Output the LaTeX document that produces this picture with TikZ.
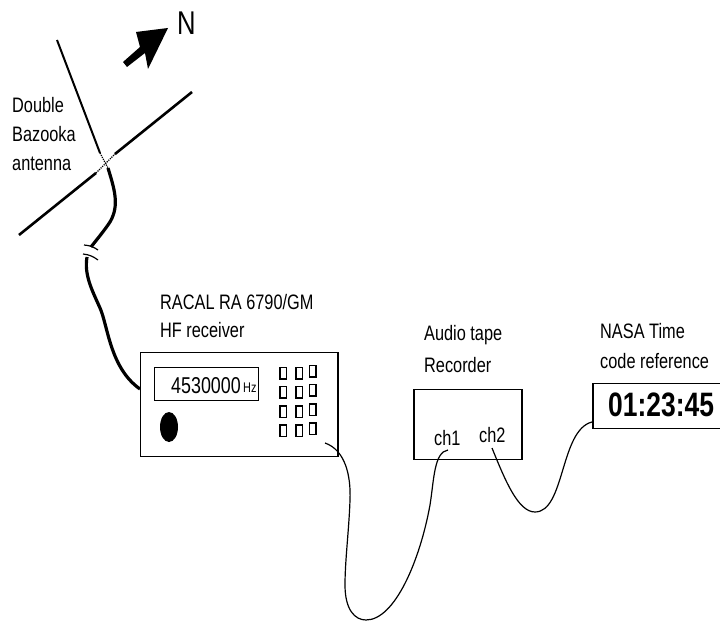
\documentclass[tikz,border=0pt]{standalone}
\usepackage{fontspec}
\setmainfont[FakeStretch=0.78]{Liberation Sans}
\begin{document}
\begin{tikzpicture}[x=1bp, y=-1bp, line join=miter,
    every node/.style={inner sep=0pt},
    lbl/.style={anchor=west, font=\fontsize{21}{21}\selectfont},
    unit/.style={draw, anchor=north west, line width=1.5pt},
    btn/.style={draw, line width=1.5pt, minimum width=6.5bp, minimum height=11.5bp},
    wire/.style={line width=1.2pt},
    feed/.style={line width=3.2pt}]
    \useasboundingbox (0, 0) rectangle (720, 622);
    % antenna
    \coordinate (A1) at (57, 40);
    \coordinate (A2) at (100, 153);
    \coordinate (A3) at (108, 168);
    \coordinate (B1) at (19, 235);
    \coordinate (B2) at (96, 173);
    \coordinate (B3) at (115, 154);
    \coordinate (B4) at (192, 92);
    \draw[line width=2pt] (A1) -- (A2);
    \draw[line width=2.6pt] (B1) -- (B2);
    \draw[line width=2.6pt] (B3) -- (B4);
    \draw[line width=1.2pt, densely dotted] (A2) -- (A3);
    \draw[line width=1.2pt, densely dotted] (B2) -- (B3);
    % north arrow
    \fill (123, 62) -- (140, 47) -- (136, 32) -- (168, 28) -- (148, 69) -- (145, 53) -- (127, 67) -- cycle;
    \node[lbl, font=\fontsize{33}{33}\selectfont] (north) at (177, 23) {N};
    % labels
    \node[lbl] (dbl1) at (12, 105) {Double};
    \node[lbl] (dbl2) at (12, 134) {Bazooka};
    \node[lbl] (dbl3) at (12, 164) {antenna};
    \node[lbl] (rx1) at (160, 302) {RACAL RA 6790/GM};
    \node[lbl] (rx2) at (160, 330) {HF receiver};
    \node[lbl] (tape1) at (424, 335) {Audio tape};
    \node[lbl] (tape2) at (424, 365) {Recorder};
    \node[lbl] (nasa1) at (600, 331) {NASA Time};
    \node[lbl] (nasa2) at (600, 361) {code reference};
    % receiver
    \node[unit, minimum width=197bp, minimum height=104bp] (rx) at (140, 352) {};
    \node[unit, minimum width=104bp, minimum height=33bp] (disp) at (154, 367) {};
    \node[lbl, font=\fontsize{23}{23}\selectfont] (freq) at (171, 386) {4530000};
    \node[lbl, font=\fontsize{14}{14}\selectfont] (hz) at (243, 388) {Hz};
    \fill (169, 427) ellipse (9 and 15);
    \foreach \row in {0, 1, 2, 3} {
        \node[btn] (b1\row) at (283, 373 + 19.3*\row) {};
        \node[btn] (b2\row) at (299, 373 + 19.3*\row) {};
        \node[btn] (b3\row) at (312.5, 371 + 19.3*\row) {};
    }
    % recorder
    \node[unit, minimum width=108bp, minimum height=70bp] (tape) at (413, 389) {};
    \node[lbl] (ch1) at (434, 438) {ch1};
    \node[lbl] (ch2) at (479, 435) {ch2};
    % time code
    \node[unit, minimum width=130bp, minimum height=45bp] (nasa) at (592, 383) {};
    \node[lbl, font=\fontsize{34}{34}\bfseries\selectfont] (time) at (608, 405) {01:23:45};
    % cables
    \coordinate (F1) at (108, 168);
    \coordinate (F2) at (91, 247);
    \coordinate (F3) at (87, 257);
    \coordinate (F4) at (140, 389);
    \draw[feed] (F1) .. controls (114, 188) and (120, 205) .. (110, 222) .. controls (104, 231) and (98, 238) .. (F2);
    \draw[feed] (F3) .. controls (84, 275) and (92, 290) .. (100, 308) .. controls (108, 326) and (110, 368) .. (F4);
    \coordinate (C1) at (84, 245);
    \coordinate (C2) at (98, 250);
    \coordinate (C3) at (83, 254);
    \coordinate (C4) at (98, 260);
    \draw[line width=1.2pt] (C1) to[bend left=15] (C2);
    \draw[line width=1.2pt] (C3) to[bend left=15] (C4);
    \coordinate (W1) at (325, 443);
    \coordinate (W2) at (448, 450);
    \coordinate (W3) at (492, 448);
    \coordinate (W4) at (592, 422);
    \draw[wire] (W1) .. controls (345, 450) and (351, 475) .. (350, 500) .. controls (349, 530) and (345, 560) .. (345, 585)
        .. controls (345, 610) and (355, 620) .. (366, 620) .. controls (395, 620) and (420, 560) .. (430, 505)
        .. controls (434, 480) and (434, 452) .. (W2);
    \draw[wire] (W3) .. controls (505, 480) and (518, 512) .. (535, 512) .. controls (565, 512) and (560, 430) .. (W4);
\end{tikzpicture}
\end{document}
